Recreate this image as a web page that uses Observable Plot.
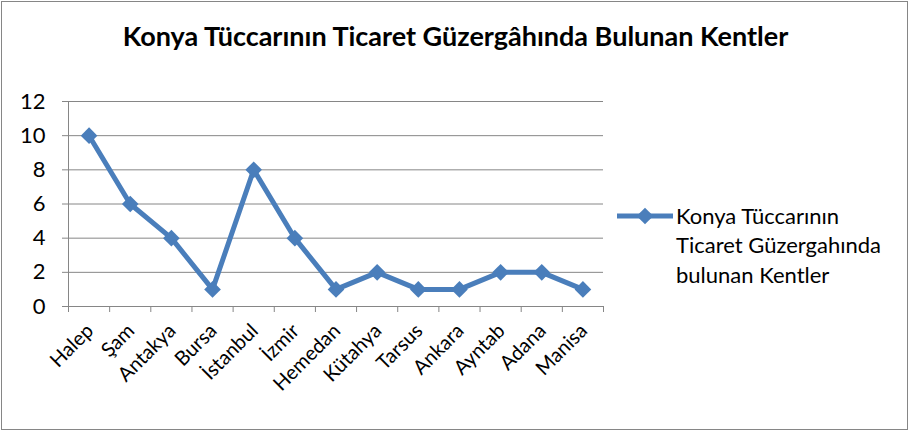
<!DOCTYPE html>
<html>
<head>
<meta charset="utf-8">
<script src="https://cdn.jsdelivr.net/npm/d3@7"></script>
<script src="https://cdn.jsdelivr.net/npm/@observablehq/plot@0.6"></script>
<style>
  html, body { margin: 0; padding: 0; background: #fff; }
  #wrap { position: relative; width: 911px; height: 433px; font-family: Lato, "Open Sans", sans-serif; color: #000; }
  #frame { position: absolute; left: 1px; top: 1px; width: 907px; height: 429px; border: 1px solid #868686; box-sizing: border-box; pointer-events: none; }
  #title { position: absolute; left: 0; width: 911px; top: 20px; text-align: center; font-weight: bold; font-size: 27px; line-height: 32px; }
  #legend { position: absolute; left: 617px; top: 201px; display: flex; align-items: flex-start; }
  #legend svg { margin-top: 3px; }
  #legend .txt { font-size: 22px; line-height: 29.3px; margin-left: 3px; }
  #chart { position: absolute; left: 0; top: 0; }
</style>
</head>
<body>
<div id="wrap">
  <div id="chart"></div>
  <div id="title"></div>
  <div id="legend"></div>
  <div id="frame"></div>
</div>
<script>
const title = "Konya Tüccarının Ticaret Güzergâhında Bulunan Kentler";
const seriesName = ["Konya Tüccarının", "Ticaret Güzergahında", "bulunan Kentler"];
const cities = ["Halep","Şam","Antakya","Bursa","İstanbul","İzmir","Hemedan","Kütahya","Tarsus","Ankara","Ayntab","Adana","Manisa"];
const values = [10,6,4,1,8,4,1,2,1,1,2,2,1];
const yTicks = [0,2,4,6,8,10,12];

const blue = "#4A7EBB";
const grey = "#868686";
const data = cities.map((c, i) => ({city: c, pos: i + 0.5, v: values[i]}));
const bounds = d3.range(cities.length + 1);

const chart = Plot.plot({
  width: 911,
  height: 433,
  marginLeft: 68,
  marginRight: 308,
  marginTop: 101,
  marginBottom: 127,
  style: {fontFamily: "Lato, 'Open Sans', sans-serif", color: "#000", background: "transparent"},
  x: {type: "linear", domain: [0, cities.length], axis: null},
  y: {domain: [0, 12], axis: null},
  marks: [
    Plot.ruleY(yTicks.filter(d => d > 0), {stroke: grey, strokeWidth: 1}),
    Plot.axisY(yTicks, {tickSize: 6, tickPadding: 17, fontSize: 22, stroke: grey, strokeOpacity: 1, fill: "#000", label: null}),
    Plot.axisX(bounds, {tickSize: 6, tickFormat: () => "", stroke: grey, strokeOpacity: 1, label: null}),
    Plot.ruleY([0], {stroke: grey}),
    Plot.ruleX([0], {stroke: grey}),
    Plot.line(data, {x: "pos", y: "v", stroke: blue, strokeWidth: 5, strokeLinejoin: "round"}),
    Plot.dot(data, {x: "pos", y: "v", symbol: "diamond2", r: 7.5, fill: blue, stroke: "none"}),
    Plot.text(data, {x: "pos", y: () => 0, text: "city", rotate: -45, textAnchor: "end", fontSize: 20, dx: 1, dy: 21, fill: "#000"})
  ]
});
document.getElementById("chart").appendChild(chart);
document.getElementById("title").textContent = title;

const legend = document.getElementById("legend");
const ls = d3.create("svg").attr("width", 56).attr("height", 24);
ls.append("line").attr("x1", 0).attr("x2", 56).attr("y1", 12).attr("y2", 12).attr("stroke", blue).attr("stroke-width", 5);
ls.append("path").attr("d", d3.symbol(d3.symbolDiamond2, Math.PI * 7.5 * 7.5)()).attr("transform", "translate(28,12)").attr("fill", blue);
legend.appendChild(ls.node());
const txt = document.createElement("div");
txt.className = "txt";
txt.innerHTML = seriesName.map(s => `<div>${s}</div>`).join("");
legend.appendChild(txt);
</script>
</body>
</html>
